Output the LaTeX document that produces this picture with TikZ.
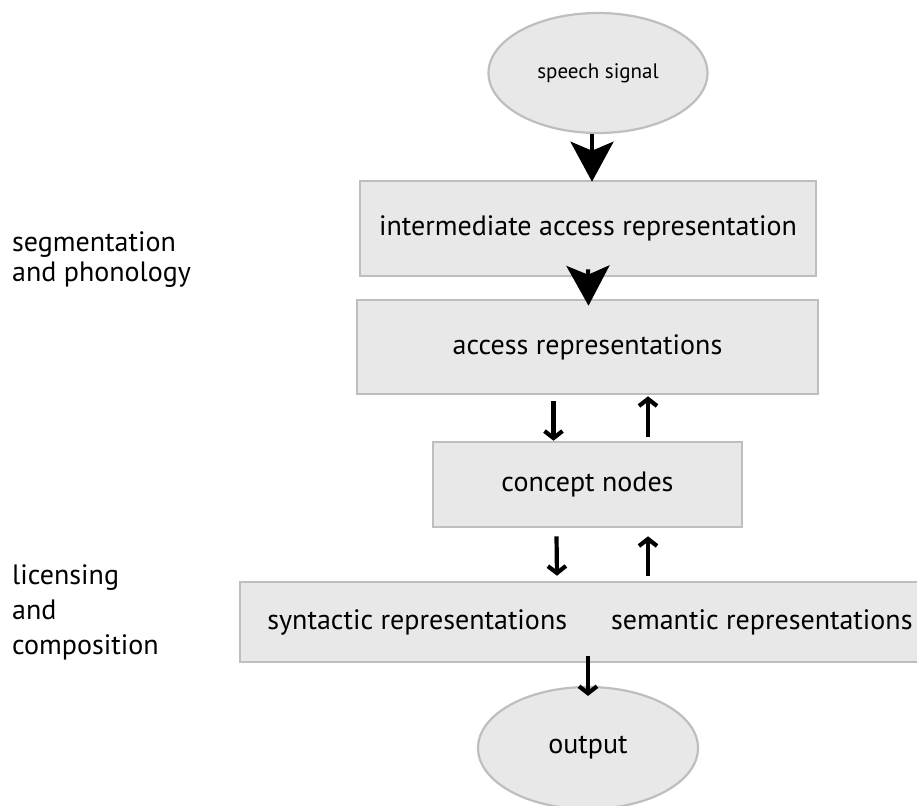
\documentclass[tikz,border=0pt]{standalone}
\usepackage{fontspec}
\setmainfont{PT Sans}
\usetikzlibrary{shapes.geometric,arrows.meta,calc}
\definecolor{boxfill}{RGB}{232,232,232}
\definecolor{boxline}{RGB}{190,190,190}
\begin{document}
\begin{tikzpicture}[x=1pt,y=-1pt,
  stage/.style={draw=boxline,fill=boxfill,line width=2.6pt,rectangle,inner sep=0pt,font=\fontsize{28}{32}\selectfont},
  oval/.style={draw=boxline,fill=boxfill,line width=2.2pt,ellipse,inner sep=0pt,font=\fontsize{28}{32}\selectfont},
  bigarrow/.style={line width=4pt,-{Stealth[length=40pt,width=43pt,inset=9pt]}},
  smallarrow/.style={line width=4.2pt,-{Straight Barb[length=7pt,width=18pt]}},
  sidelabel/.style={align=left,anchor=west,inner sep=0pt,font=\fontsize{28}{30}\selectfont}]
\useasboundingbox (0,0) rectangle (917,805);
\clip (0,0) rectangle (917,805);
\node[oval,minimum width=219pt,minimum height=120pt,font=\fontsize{21}{24}\selectfont] (speech) at (598,73) {speech signal};
\node[stage,minimum width=456pt,minimum height=95pt] (box1) at (588,228.5) {intermediate access representation};
\node[stage,minimum width=461pt,minimum height=94pt] (box2) at (587.5,347) {access representations};
\node[stage,minimum width=309pt,minimum height=85pt] (box3) at (587.5,484.5) {concept nodes};
\node[stage,minimum width=700pt,minimum height=80pt] (box4) at (590,622) {syntactic representations\hspace{44pt}semantic representations};
\node[oval,minimum width=220pt,minimum height=122pt] (out) at (588,748) {output};
\node[sidelabel] (seg) at (12,260) {segmentation\\and phonology};
\node[sidelabel,font=\fontsize{28}{35}\selectfont] (lic) at (12,612) {licensing\\and\\composition};
\draw[bigarrow] ([xshift=-6pt]speech.south) -- ([xshift=-6pt,yshift=-2pt]speech.south |- box1.north);
\draw[bigarrow] ($(box1.south)+(0,-8)$) -- ($(box2.north)+(1,7)$);
\draw[smallarrow] ($(box2.south)+(-34,6)$) -- ($(box3.north)+(-34,0)$);
\draw[smallarrow] ($(box3.north)+(60.5,-4)$) -- ($(box2.south)+(60.5,1)$);
\draw[smallarrow] ($(box3.south)+(-31,8)$) -- ($(box4.north)+(-33,-5)$);
\draw[smallarrow] ($(box4.north)+(58,-5)$) -- ($(box3.south)+(60.5,8)$);
\draw[smallarrow] ($(box4.south)+(-2,-7)$) -- ($(out.north)+(0,10)$);
\end{tikzpicture}
\end{document}
